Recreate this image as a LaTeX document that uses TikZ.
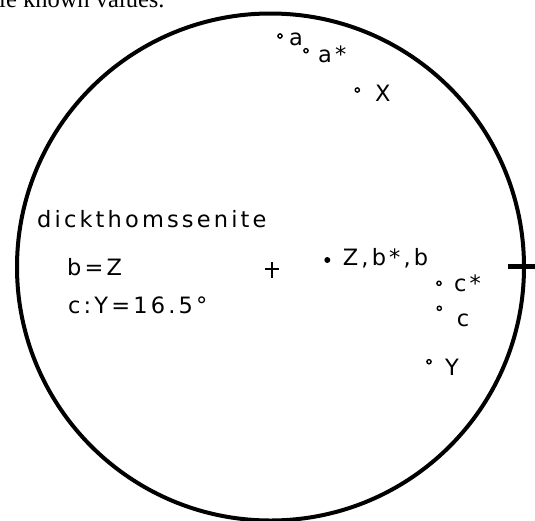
\documentclass[tikz,border=0pt]{standalone}
\usepackage{fontspec}
\setmainfont{DejaVu Sans}[LetterSpace=14]
\newfontfamily\capfont{Liberation Serif}
\begin{document}
\begin{tikzpicture}[x=1pt,y=-1pt,
  lbl/.style={anchor=base west, inner sep=0pt, font=\fontsize{22.5}{27}\selectfont},
  opt/.style={draw, circle, line width=1.4pt, inner sep=0pt, minimum size=4.2pt},
  fpt/.style={fill, circle, inner sep=0pt, minimum size=6pt},
  rim/.style={line width=4pt},
  centremark/.style={line width=2.5pt}]
\useasboundingbox (0,0) rectangle (535,520);
% caption fragment
\node[anchor=base west, inner sep=0pt, font=\capfont\fontsize{24.5}{29}\selectfont] (cap) at (-1,7.5) {le known values.};
% stereogram circle
\coordinate (O) at (270.5,267);
\draw[rim] (O) circle[radius=253.5];
\draw[line width=5pt] (508,266.3) coordinate (t1) -- (536,266.3) coordinate (t2);
% centre mark
\draw[centremark] (265,269) -- (279,269);
\draw[centremark] (272,262) -- (272,278);
% labels
\node[lbl] (name) at (37,227) {dickthomssenite};
\node[lbl] (bz) at (67,275) {b=Z};
\node[lbl] (cy) at (68,313) {c:Y=16.5°};
% poles
\node[opt] (pa) at (280,36) {};
\node[lbl] (la) at (289,45) {a};
\node[opt] (pas) at (306,50.7) {};
\node[lbl] (las) at (318,62.7) {a*};
\node[opt] (px) at (357.3,90) {};
\node[lbl] (lx) at (375,101) {X};
\node[fpt] (pz) at (327.3,260) {};
\node[lbl] (lz) at (342.7,265) {Z,b*,b};
\node[opt] (pcs) at (439,283.3) {};
\node[lbl] (lcs) at (454,291.7) {c*};
\node[opt] (pc) at (439.3,308.3) {};
\node[lbl] (lc) at (456.7,326.7) {c};
\node[opt] (py) at (429,361.7) {};
\node[lbl] (ly) at (445,375) {Y};
\end{tikzpicture}
\end{document}
